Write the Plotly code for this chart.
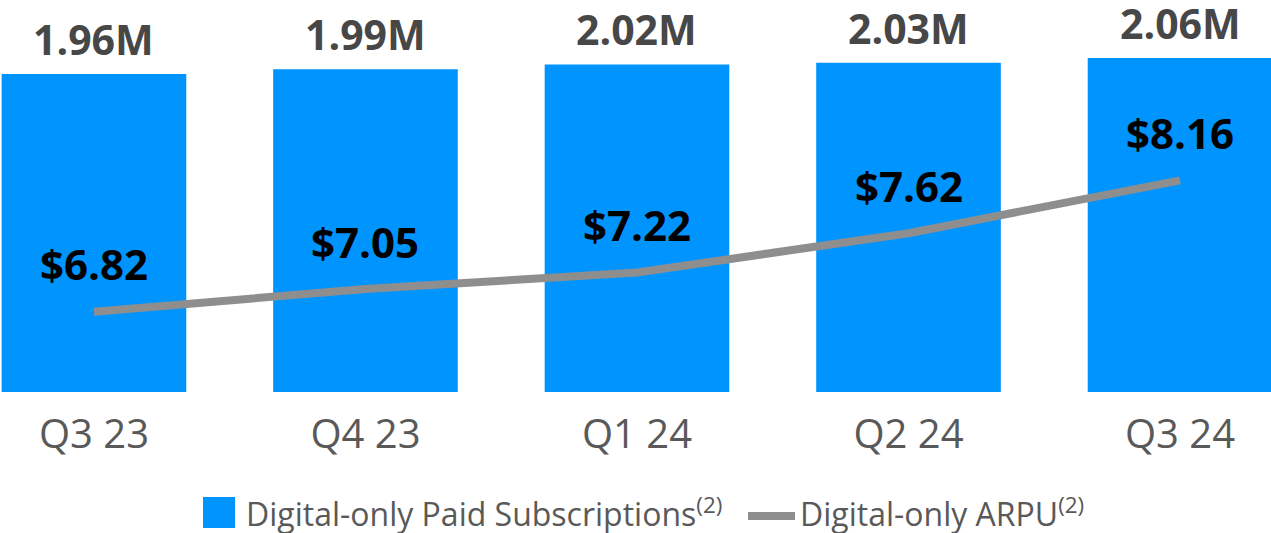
import plotly.graph_objects as go

quarters = ["Q3 23", "Q4 23", "Q1 24", "Q2 24", "Q3 24"]
subs_m = [1.96, 1.99, 2.02, 2.03, 2.06]
arpu = [6.82, 7.05, 7.22, 7.62, 8.16]

blue = "#0094FF"
grey_line = "#8E8E8E"
font = "Open Sans"

fig = go.Figure()

fig.add_trace(go.Bar(
    x=quarters, y=subs_m, width=0.68,
    marker=dict(color=blue, line=dict(width=0)),
    showlegend=False, hoverinfo="skip"
))

fig.add_trace(go.Scatter(
    x=quarters, y=arpu, yaxis="y2", mode="lines",
    line=dict(color=grey_line, width=8),
    showlegend=False, hoverinfo="skip"
))

# value labels
for q, s in zip(quarters, subs_m):
    fig.add_annotation(x=q, y=s, yref="y", text=f"<b>{s:.2f}M</b>",
                       showarrow=False, yanchor="bottom", yshift=5,
                       font=dict(family=font, size=41, color="#474747"))
for q, a in zip(quarters, arpu):
    fig.add_annotation(x=q, y=a, yref="y2", text=f"<b>${a:.2f}</b>",
                       showarrow=False, yanchor="middle", yshift=48,
                       font=dict(family=font, size=42, color="#000000"))

# legend drawn by hand so the swatches are big like the original
fig.add_shape(type="rect", xref="paper", yref="paper",
              x0=203/1271, x1=235/1271, y0=(392-528)/392, y1=(392-497)/392,
              fillcolor=blue, line=dict(width=0))
fig.add_annotation(xref="paper", yref="paper", x=244/1271, y=(392-512)/392,
                   xanchor="left", yanchor="middle", showarrow=False,
                   text="Digital-only Paid Subscriptions<sup>(2)</sup>",
                   font=dict(family=font, size=32, color="#595959"))
fig.add_shape(type="line", xref="paper", yref="paper",
              x0=748/1271, x1=795/1271, y0=(392-516)/392, y1=(392-516)/392,
              line=dict(color=grey_line, width=8))
fig.add_annotation(xref="paper", yref="paper", x=798/1271, y=(392-512)/392,
                   xanchor="left", yanchor="middle", showarrow=False,
                   text="Digital-only ARPU<sup>(2)</sup>",
                   font=dict(family=font, size=32, color="#595959"))

fig.update_layout(
    width=1271, height=533,
    margin=dict(l=0, r=0, t=0, b=141),
    plot_bgcolor="white", paper_bgcolor="white",
    showlegend=False,
    xaxis=dict(range=[-0.346, 4.335], showgrid=False, zeroline=False,
               showline=False, ticks="outside", ticklen=7, tickcolor="white",
               tickfont=dict(family=font, size=40, color="#595959")),
    yaxis=dict(range=[0, 2.417], visible=False),
    yaxis2=dict(range=[6.0, 10.0], overlaying="y", visible=False),
)

fig.write_html("out.html", config={"displayModeBar": False},
               post_script="document.body.style.margin='0';")
